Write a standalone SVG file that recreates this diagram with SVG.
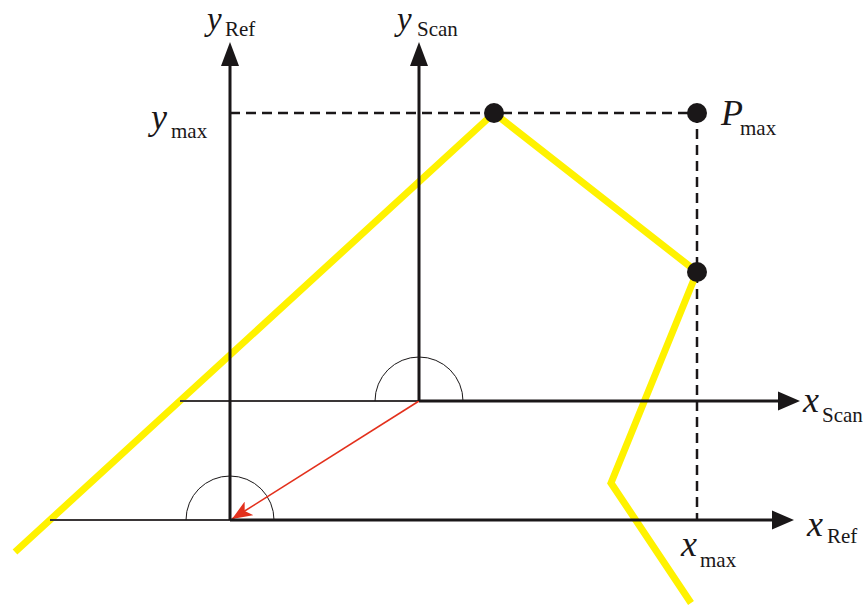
<svg xmlns="http://www.w3.org/2000/svg" width="864" height="605" viewBox="0 0 864 605">
<style>
.axis{stroke:#1a1718;stroke-width:3;fill:none}
.thin{stroke:#3a3637;stroke-width:2;fill:none}
.dash{stroke:#1a1718;stroke-width:2.5;stroke-dasharray:10 6;fill:none}
.arc{stroke:#1a1718;stroke-width:1;fill:none}
.poly{stroke:#fff200;stroke-width:7;fill:none;stroke-linejoin:miter}
.v{font-family:"Liberation Serif",serif;font-style:italic;font-size:36px;fill:#1a1718}
.vt{font-family:"Liberation Serif",serif;font-style:italic;font-size:33px;fill:#1a1718}
.s{font-family:"Liberation Serif",serif;font-size:21px;fill:#1a1718}
.head{fill:#1a1718}
.pt{fill:#1a1718}
</style>
<defs>
<marker id="red" markerWidth="22" markerHeight="16" refX="20" refY="8" orient="auto" markerUnits="userSpaceOnUse">
<path d="M0,0 L20,8 L0,16 L5,8 Z" fill="#e3301c"/>
</marker>
</defs>
<g id="connectors">
<line class="dash" x1="230" y1="113" x2="697" y2="113"/>
<line class="dash" x1="697" y1="113" x2="697" y2="520"/>
<polyline class="poly" points="15,552 494,113 697,272 611,483 691,603"/>
<line class="thin" x1="180" y1="401" x2="419" y2="401"/>
<line class="thin" x1="50" y1="520" x2="230" y2="520"/>
<path class="arc" d="M375,401 A44,44 0 0 1 463,401"/>
<path class="arc" d="M186,520 A44,44 0 0 1 274,520"/>
<line x1="419" y1="401" x2="232" y2="519" stroke="#e3301c" stroke-width="1.6" marker-end="url(#red)"/>
</g>
<g id="axis-yRef">
<line class="axis" x1="230" y1="520" x2="230" y2="62"/>
<path class="head" d="M230,42 L239,66 L221,66 Z"/>
<text class="vt" x="207" y="30">y</text><text class="s" x="225" y="36">Ref</text>
</g>
<g id="axis-yScan">
<line class="axis" x1="419" y1="401" x2="419" y2="62"/>
<path class="head" d="M419,42 L428,66 L410,66 Z"/>
<text class="vt" x="397" y="30">y</text><text class="s" x="417" y="36">Scan</text>
</g>
<g id="axis-xScan">
<line class="axis" x1="419" y1="401" x2="782" y2="401"/>
<path class="head" d="M800,401 L778,391.5 L778,410.5 Z"/>
<text class="v" x="803" y="412">x</text><text class="s" x="822" y="422">Scan</text>
</g>
<g id="axis-xRef">
<line class="axis" x1="230" y1="520" x2="776" y2="520"/>
<path class="head" d="M794,520 L772,510.5 L772,529.5 Z"/>
<text class="v" x="807" y="536">x</text><text class="s" x="827" y="543">Ref</text>
</g>
<g id="label-ymax">
<text class="v" x="151" y="129">y</text><text class="s" x="171" y="138">max</text>
</g>
<g id="label-xmax">
<text class="v" x="681" y="556">x</text><text class="s" x="700" y="567">max</text>
</g>
<g id="point-top"><circle class="pt" cx="494" cy="113" r="10"/></g>
<g id="point-Pmax"><circle class="pt" cx="697" cy="113" r="10"/>
<text class="v" x="721" y="125">P</text><text class="s" x="740" y="135">max</text></g>
<g id="point-right"><circle class="pt" cx="697" cy="272" r="10"/></g>
</svg>
